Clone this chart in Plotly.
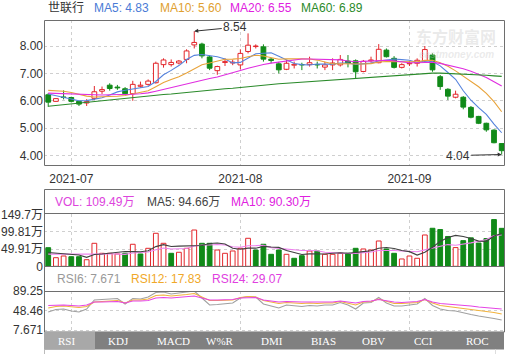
import plotly.graph_objects as go
import pandas as pd

# ---------------- data ----------------
dates = pd.bdate_range("2021-06-28", "2021-09-17")

opens = [6.22, 5.98, 6.14, 6.12, 5.98, 5.92, 6.09, 6.35, 6.57, 6.50,
         6.44, 6.26, 6.53, 6.60, 6.66, 7.32, 7.32, 7.38, 7.51, 8.04,
         8.07, 7.60, 7.10, 7.40, 7.38, 7.31, 7.80, 7.98, 7.97, 7.52,
         7.35, 7.15, 7.30, 7.32, 7.32, 7.32, 7.23, 7.31, 7.31, 7.45,
         7.46, 7.07, 7.46, 7.39, 7.85, 7.55, 7.22, 7.35, 7.37, 7.46,
         7.67, 6.88, 6.42, 6.13, 6.13, 5.76, 5.43, 5.18, 4.93, 4.44]
highs = [6.28, 6.10, 6.38, 6.15, 6.00, 6.06, 6.54, 6.52, 6.64, 6.58,
         6.50, 6.73, 6.70, 6.78, 7.43, 7.55, 7.51, 7.49, 7.88, 8.54,
         8.12, 7.66, 7.28, 7.55, 7.50, 7.88, 8.46, 8.06, 8.06, 7.56,
         7.42, 7.49, 7.43, 7.39, 7.61, 7.43, 7.43, 7.55, 7.67, 7.67,
         7.51, 7.49, 7.61, 8.07, 7.91, 7.63, 7.37, 7.46, 7.55, 8.00,
         7.73, 6.94, 6.46, 6.37, 6.17, 5.81, 5.45, 5.20, 4.96, 4.45]
lows = [5.78, 5.96, 6.05, 5.94, 5.81, 5.81, 6.03, 6.25, 6.37, 6.40,
        6.22, 6.00, 6.48, 6.55, 6.63, 7.21, 7.25, 7.33, 7.37, 7.91,
        7.55, 7.12, 6.95, 7.27, 7.30, 7.15, 7.73, 7.91, 7.43, 7.37,
        7.00, 7.12, 7.18, 7.12, 7.25, 7.18, 7.12, 7.12, 7.25, 7.22,
        6.82, 7.04, 7.39, 7.37, 7.58, 7.18, 7.18, 7.27, 7.25, 7.42,
        7.06, 6.40, 6.03, 6.09, 5.69, 5.36, 5.15, 4.87, 4.45, 4.04]
closes = [5.95, 6.08, 6.12, 5.98, 5.88, 5.97, 6.33, 6.41, 6.45, 6.47,
          6.26, 6.60, 6.57, 6.72, 7.37, 7.49, 7.40, 7.45, 7.82, 8.13,
          7.64, 7.19, 7.25, 7.43, 7.41, 7.73, 8.03, 8.00, 7.52, 7.47,
          7.13, 7.37, 7.33, 7.31, 7.39, 7.31, 7.31, 7.38, 7.51, 7.38,
          7.06, 7.44, 7.49, 7.88, 7.61, 7.22, 7.32, 7.37, 7.48, 7.87,
          7.13, 6.52, 6.17, 6.24, 5.77, 5.40, 5.18, 4.94, 4.47, 4.18]

# moving-average values before enough closes are on screen
ma5_head = [6.25, 6.19, 6.12, 6.06]
ma10_head = [6.38, 6.37, 6.35, 6.30, 6.23, 6.17, 6.14, 6.14, 6.16]
ma20_head = [6.28, 6.27, 6.25, 6.24, 6.22, 6.21, 6.21, 6.21, 6.22, 6.22,
             6.22, 6.24, 6.26, 6.29, 6.35, 6.42, 6.49, 6.55, 6.61]
ma60 = [5.80, 5.83, 5.86, 5.89, 5.92, 5.95, 5.98, 6.01, 6.04, 6.06,
        6.09, 6.12, 6.15, 6.17, 6.20, 6.23, 6.25, 6.28, 6.30, 6.33,
        6.36, 6.39, 6.41, 6.44, 6.46, 6.49, 6.52, 6.54, 6.57, 6.59,
        6.62, 6.64, 6.66, 6.68, 6.70, 6.72, 6.74, 6.76, 6.78, 6.80,
        6.82, 6.84, 6.86, 6.88, 6.91, 6.93, 6.95, 6.97, 6.99, 7.00,
        7.01, 7.01, 7.00, 6.99, 6.98, 6.96, 6.95, 6.93, 6.91, 6.89]

# volume in 万
volume = [53.7, 24.8, 29.7, 27.7, 27.7, 19.0, 66.3, 37.5, 37.5, 35.5,
          37.5, 63.5, 35.5, 51.9, 95.2, 66.3, 37.5, 40.4, 51.9, 104.7,
          66.3, 66.3, 47.0, 37.5, 44.2, 51.9, 80.8, 47.0, 63.5, 34.6,
          47.0, 34.6, 23.1, 30.6, 44.1, 44.1, 34.6, 34.6, 37.5, 37.5,
          51.9, 50.0, 47.0, 73.0, 50.0, 37.5, 21.1, 29.7, 23.1, 90.3,
          109.7, 106.0, 86.0, 54.0, 74.0, 82.0, 67.0, 80.0, 134.8, 109.49]
vol_up = [0, 1, 1, 0, 0, 1, 1, 1, 1, 1,
          0, 1, 0, 1, 1, 1, 0, 1, 1, 1,
          0, 0, 1, 1, 1, 1, 1, 0, 0, 0,
          0, 1, 0, 0, 1, 0, 1, 1, 1, 0,
          0, 1, 1, 1, 0, 0, 1, 1, 1, 1,
          0, 0, 0, 1, 0, 0, 0, 0, 0, 0]
vma5_head = [40, 38, 36, 34]
vma10_head = [35, 35, 34, 34, 33, 33, 34, 35, 36]

rsi6 = [45.6, 50.8, 51.8, 47.6, 45.6, 51.8, 70.5, 71.6, 72.6, 73.6,
        62.2, 73.6, 72.6, 76.8, 86.1, 87.2, 83.0, 85.1, 87.2, 89.25,
        74.7, 60.1, 61.2, 62.2, 64.3, 74.7, 77.8, 76.8, 62.2, 58.0,
        53.9, 60.1, 58.0, 57.0, 59.1, 58.0, 60.1, 60.1, 65.3, 60.1,
        51.8, 64.3, 65.3, 75.7, 64.3, 58.0, 58.0, 60.1, 62.2, 73.6,
        59.1, 51.8, 48.7, 47.6, 43.5, 40.3, 37.2, 35.1, 32.0, 28.9]
rsi12 = [53.9, 57.0, 58.0, 56.0, 54.9, 57.0, 66.4, 67.4, 68.4, 69.5,
         64.3, 70.5, 70.5, 72.6, 79.9, 80.9, 78.8, 79.9, 82.0, 84.0,
         76.8, 69.5, 69.5, 69.5, 70.5, 75.7, 77.8, 76.8, 69.5, 66.4,
         63.2, 65.3, 64.3, 63.2, 64.3, 63.2, 64.3, 64.3, 67.4, 64.3,
         60.1, 66.4, 67.4, 72.6, 67.4, 63.2, 63.2, 64.3, 65.3, 71.6,
         64.3, 59.1, 57.0, 56.0, 52.8, 50.8, 48.7, 46.6, 44.5, 41.4]
rsi24 = [59.1, 60.1, 60.1, 59.1, 58.0, 60.1, 66.4, 66.4, 66.4, 67.4,
         64.3, 68.4, 68.4, 69.5, 74.7, 75.7, 74.7, 75.7, 76.8, 78.8,
         74.7, 70.5, 70.5, 70.5, 71.6, 74.7, 75.7, 75.7, 70.5, 68.4,
         66.4, 67.4, 66.4, 66.4, 66.4, 66.4, 66.4, 66.4, 68.4, 66.4,
         64.3, 67.4, 68.4, 71.6, 68.4, 66.4, 65.3, 66.4, 67.4, 71.6,
         66.4, 63.2, 62.2, 61.2, 59.1, 58.0, 56.0, 54.9, 53.9, 51.8]

price_ticks = [4, 5, 6, 7, 8]
vol_ticks = [0, 49.91, 99.81, 149.7]
vol_ticktext = ["0", "49.91万", "99.81万", "149.7万"]
rsi_ticks = [7.671, 48.46, 89.25]
rsi_ticktext = ["7.671", "48.46", "89.25"]
tabs = ["RSI", "KDJ", "MACD", "W%R", "DMI", "BIAS", "OBV", "CCI", "ROC"]

# ---------------- helpers ----------------
W, H = 507, 354
def px(x): return x / W
def py(y): return 1 - y / H

def moving(vals, n, head):
    out = list(head)
    for i in range(len(head), len(vals)):
        out.append(sum(vals[i - n + 1:i + 1]) / n)
    return out

N = len(closes)
idx = list(range(N))
RED = "#e3262b"
GREEN = "#108a18"
FONT = "Liberation Sans, Arial, Noto Sans CJK SC, sans-serif"

ma5 = moving(closes, 5, ma5_head)
ma10 = moving(closes, 10, ma10_head)
ma20 = moving(closes, 20, ma20_head)
vma5 = moving(volume, 5, vma5_head)
vma10 = moving(volume, 10, vma10_head)

fig = go.Figure()

# wicks (split so hollow bodies stay empty)
for up, col in [(True, RED), (False, GREEN)]:
    wx, wy = [], []
    for i in idx:
        o, c = opens[i], closes[i]
        if (c >= o) != up:
            continue
        top, bot = max(o, c), min(o, c)
        wx += [i, i, None, i, i, None]
        wy += [highs[i], top, None, bot, lows[i], None]
    fig.add_trace(go.Scatter(x=wx, y=wy, mode="lines", line=dict(color=col, width=1),
                             hoverinfo="skip", showlegend=False, xaxis="x", yaxis="y"))

body_base = [min(o, c) for o, c in zip(opens, closes)]
body_h = [max(abs(c - o), 0.012) for o, c in zip(opens, closes)]
body_fill = ["#ffffff" if c >= o else GREEN for o, c in zip(opens, closes)]
body_line = [RED if c >= o else GREEN for o, c in zip(opens, closes)]
fig.add_trace(go.Bar(x=idx, y=body_h, base=body_base, width=0.62,
                     marker=dict(color=body_fill, line=dict(color=body_line, width=1)),
                     showlegend=False, xaxis="x", yaxis="y"))

for vals, col in [(ma5, "#5583dd"), (ma10, "#e8a33a"), (ma20, "#e02ee0"), (ma60, "#2a8a2a")]:
    fig.add_trace(go.Scatter(x=idx, y=vals, mode="lines", line=dict(color=col, width=1.1),
                             showlegend=False, xaxis="x", yaxis="y"))

# volume
vfill = ["#ffffff" if u else GREEN for u in vol_up]
vline = [RED if u else GREEN for u in vol_up]
fig.add_trace(go.Bar(x=idx, y=volume, width=0.62,
                     marker=dict(color=vfill, line=dict(color=vline, width=1)),
                     showlegend=False, xaxis="x2", yaxis="y2"))
fig.add_trace(go.Scatter(x=idx, y=vma10, mode="lines", line=dict(color="#ee82ee", width=1.1),
                         showlegend=False, xaxis="x2", yaxis="y2"))
fig.add_trace(go.Scatter(x=idx, y=vma5, mode="lines", line=dict(color="#404040", width=1.1),
                         showlegend=False, xaxis="x2", yaxis="y2"))

# RSI
for vals, col in [(rsi6, "#a0a0a0"), (rsi12, "#f2b33d"), (rsi24, "#e545e5")]:
    fig.add_trace(go.Scatter(x=idx, y=vals, mode="lines", line=dict(color=col, width=1.1),
                             showlegend=False, xaxis="x3", yaxis="y3"))

# ---------------- axes ----------------
tick_idx = [i for i in range(1, N) if dates[i].month != dates[i - 1].month]
tick_txt = [dates[i].strftime("%Y-%m") for i in tick_idx]
xdom = [px(44), px(504)]
xr = [-0.55, 59.3]
grid = dict(showgrid=True, gridcolor="#cfcfcf", griddash="3px,3px", gridwidth=1,
            zeroline=False, showline=False, ticks="", automargin=False)

fig.update_layout(
    width=W, height=H, margin=dict(l=0, r=0, t=0, b=0),
    paper_bgcolor="white", plot_bgcolor="white", barmode="overlay",
    font=dict(family=FONT, size=12, color="#333333"),
    showlegend=False,
    xaxis=dict(domain=xdom, range=xr, anchor="y", tickvals=tick_idx, ticktext=tick_txt,
               tickfont=dict(size=12, color="#333"), ticklabelstandoff=5, **grid),
    xaxis2=dict(domain=xdom, range=xr, anchor="y2", tickvals=tick_idx, showticklabels=False, **grid),
    xaxis3=dict(domain=xdom, range=xr, anchor="y3", tickvals=tick_idx, showticklabels=False, **grid),
    yaxis=dict(domain=[py(165), py(20)], range=[3.657, 8.949], tickvals=price_ticks,
               tickformat=".2f", tickfont=dict(size=12, color="#333"), **grid),
    yaxis2=dict(domain=[py(266.3), py(214.4)], range=[0, 149.7], tickvals=vol_ticks,
                ticktext=vol_ticktext, tickfont=dict(size=12, color="#333"), **grid),
    yaxis3=dict(domain=[py(333), py(291)], range=[1.85, 89.25], tickvals=rsi_ticks,
                ticktext=rsi_ticktext, tickfont=dict(size=12, color="#333"), **grid),
)

# ---------------- frames & tab bar ----------------
shapes = []
fc = "#6e6e6e"
def rect(x0, y0, x1, y1, **kw):
    d = dict(type="rect", xref="paper", yref="paper", x0=px(x0), x1=px(x1), y0=py(y1), y1=py(y0), layer="above")
    d.update(kw)
    shapes.append(d)
def hline(x0, x1, y, col=fc):
    shapes.append(dict(type="line", xref="paper", yref="paper", x0=px(x0), x1=px(x1), y0=py(y), y1=py(y),
                       line=dict(color=col, width=1), layer="above"))

rect(44.5, 20.5, 504.5, 165.5, line=dict(color=fc, width=1))
rect(44.5, 189.5, 504.5, 266.5, line=dict(color=fc, width=1))
hline(44.5, 504.5, 213.5)
rect(44.5, 266.5, 504.5, 332, line=dict(color=fc, width=1))
hline(44.5, 504.5, 291.5)
rect(44, 332, 504, 349.5, fillcolor="#808080", line=dict(width=0))
rect(44, 332, 95, 349.5, fillcolor="#a8a8a8", line=dict(width=0))
shapes.append(dict(type="line", xref="paper", yref="paper", x0=px(44.5), x1=px(44.5), y0=py(354), y1=py(349.5),
                   line=dict(color="#bbbbbb", width=1), layer="above"))
shapes.append(dict(type="line", xref="paper", yref="paper", x0=px(495.5), x1=px(495.5), y0=py(354), y1=py(349.5),
                   line=dict(color="#dddddd", width=1), layer="above"))
fig.update_layout(shapes=shapes)

# ---------------- texts ----------------
ann = []
def text(x, y, s, col, size=12, family=FONT, anchor="left"):
    ann.append(dict(xref="paper", yref="paper", x=px(x), y=py(y), text=s, showarrow=False,
                    xanchor=anchor, yanchor="middle", font=dict(color=col, size=size, family=family)))

# watermark
text(456, 37, "<b>东方财富网</b>", "rgba(200,200,200,0.38)", size=16, anchor="center")
text(456, 54, "<b><i>eastmoney.com</i></b>", "rgba(200,200,200,0.38)", size=10, anchor="center")

text(46, 8, "世联行", "#333333")
text(92, 8, f"MA5: {ma5[-1]:.2f}", "#4a7bd6")
text(158, 8, f"MA10: {ma10[-1]:.2f}", "#e0a030")
text(228, 8, "MA20: 6.55", "#e020e0")
text(299, 8, f"MA60: {ma60[-1]:.2f}", "#2a8a2a")

text(53, 201.5, f"VOL: {volume[-1]:.2f}万", "#dd44dd")
text(145, 201.5, f"MA5: {vma5[-1]:.2f}万", "#444444")
text(229, 201.5, f"MA10: {vma10[-1]:.2f}万", "#e020e0")

text(55, 279, "RSI6: 7.671", "#999999")
text(129, 279, "RSI12: 17.83", "#f0a828")
text(210, 279, "RSI24: 29.07", "#e040e0")

tab_x = [66, 118, 173, 220, 272, 323, 373, 423, 477]
for t, x in zip(tabs, tab_x):
    text(x, 341, t, "#ffffff", size=11, family="Liberation Serif, serif", anchor="center")

# high / low markers
i_hi = highs.index(max(highs))
i_lo = lows.index(min(lows))
ann.append(dict(xref="x", yref="y", x=i_hi, y=highs[i_hi], text=f"{highs[i_hi]:.2f}",
                showarrow=True, ax=41, ay=-4, arrowhead=2, arrowsize=0.8, arrowwidth=1,
                arrowcolor="#333", font=dict(size=12, color="#333")))
ann.append(dict(xref="x", yref="y", x=i_lo, y=lows[i_lo], text=f"{lows[i_lo]:.2f}",
                showarrow=True, ax=-44, ay=1, arrowhead=2, arrowsize=0.8, arrowwidth=1,
                arrowcolor="#333", font=dict(size=12, color="#333")))
fig.update_layout(annotations=ann)

fig.write_html("out.html")
